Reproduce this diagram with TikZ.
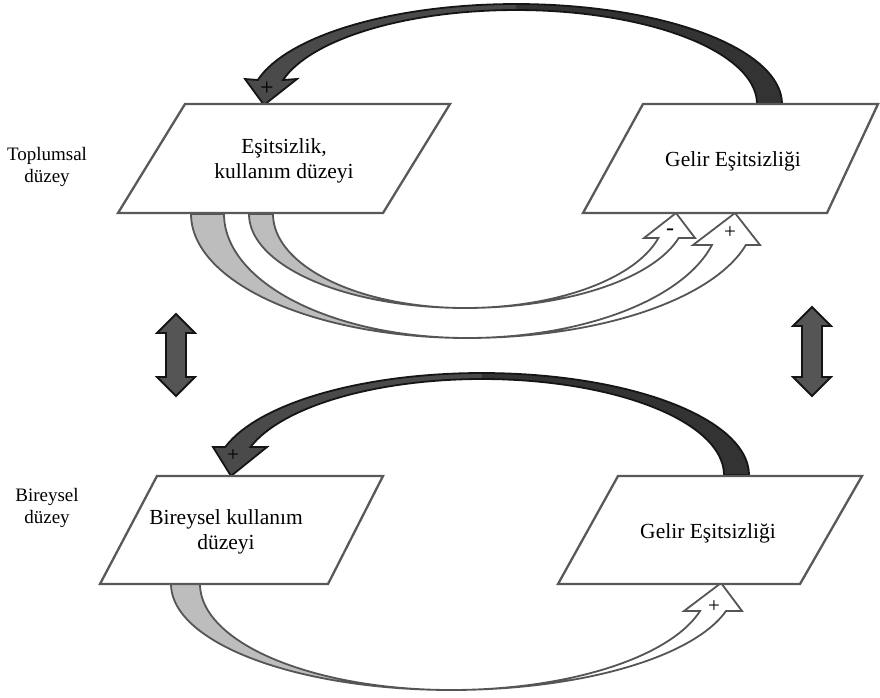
\documentclass[tikz,border=0pt]{standalone}
\usepackage{fontspec}
\setmainfont{Liberation Serif}
\definecolor{boxline}{HTML}{595959}
\definecolor{darkfront}{HTML}{4A4A4A}
\definecolor{darkback}{HTML}{333333}
\definecolor{darkedge}{HTML}{151515}
\definecolor{greyback}{HTML}{BDBDBD}
\definecolor{bandline}{HTML}{555555}
\definecolor{twinfill}{HTML}{555555}
\begin{document}
\begin{tikzpicture}[x=1pt,y=-1pt,
  every plot/.style={samples=70},
  box/.style={draw=boxline,line width=2.3pt,fill=white,line join=miter},
  boxtext/.style={font=\fontsize{21.5}{25}\selectfont,align=center,inner sep=0pt},
  sidetext/.style={font=\fontsize{19}{22.5}\selectfont,align=center,inner sep=0pt},
  sign/.style={font=\fontsize{21}{21}\selectfont,inner sep=0pt},
  darkedge/.style={draw=darkedge,line width=1.8pt,line join=miter},
  bandedge/.style={draw=bandline,line width=1.8pt,line join=miter},
  twin/.style={fill=twinfill,draw=darkedge,line width=1.8pt,line join=miter}]
\useasboundingbox (0,0) rectangle (880,697);

% ---- feedback arrow over the society level (elliptic band, centre 516,104) ----
\fill[darkback] plot[domain=0:-90,variable=\t]({516+266*cos(\t)},{104+100*sin(\t)})
  -- plot[domain=-90:0,variable=\t]({516+241*cos(\t)},{104+94*sin(\t)}) -- cycle;
\fill[darkfront] plot[domain=-90:-166.11,variable=\t]({516+266*cos(\t)},{104+100*sin(\t)})
  -- (245,79) -- (264,105) -- (297,79)
  -- plot[domain=-165.21:-90,variable=\t]({516+241*cos(\t)},{104+94*sin(\t)}) -- cycle;
\path[darkedge] plot[domain=0:-166.11,variable=\t]({516+266*cos(\t)},{104+100*sin(\t)})
  -- (245,79) -- (264,105) -- (297,79)
  -- plot[domain=-165.21:0,variable=\t]({516+241*cos(\t)},{104+94*sin(\t)}) -- cycle;

% ---- feedback arrow over the individual level (centre 482,475) ----
\fill[darkback] plot[domain=0:-90,variable=\t]({482+267*cos(\t)},{475+102*sin(\t)})
  -- plot[domain=-90:0,variable=\t]({482+242*cos(\t)},{475+96*sin(\t)}) -- cycle;
\fill[darkfront] plot[domain=-90:-164.07,variable=\t]({482+267*cos(\t)},{475+102*sin(\t)})
  -- (213,447) -- (231,476) -- (267,447)
  -- plot[domain=-163.04:-90,variable=\t]({482+242*cos(\t)},{475+96*sin(\t)}) -- cycle;
\path[darkedge] plot[domain=0:-164.07,variable=\t]({482+267*cos(\t)},{475+102*sin(\t)})
  -- (213,447) -- (231,476) -- (267,447)
  -- plot[domain=-163.04:0,variable=\t]({482+242*cos(\t)},{475+96*sin(\t)}) -- cycle;

% ---- arrows under the society level: outer one (+) ----
\path[bandedge,fill=greyback] plot[domain=180:90,variable=\t]({467+276*cos(\t)},{214+124*sin(\t)})
  -- plot[domain=90:180,variable=\t]({467+243*cos(\t)},{214+124*sin(\t)}) -- cycle;
\path[bandedge,fill=white] plot[domain=90:14.48,variable=\t]({467+288*cos(\t)},{214+124*sin(\t)})
  -- (760,245) -- (735,213) -- (693,245)
  -- plot[domain=14.48:90,variable=\t]({467+253*cos(\t)},{214+124*sin(\t)}) -- cycle;
% inner one (-)
\path[bandedge,fill=greyback] plot[domain=180:90,variable=\t]({465+216*cos(\t)},{214+94*sin(\t)})
  -- plot[domain=90:180,variable=\t]({465+192*cos(\t)},{214+94*sin(\t)}) -- cycle;
\path[bandedge,fill=white] plot[domain=90:14.79,variable=\t]({465+221*cos(\t)},{214+94*sin(\t)})
  -- (695,238) -- (676,213) -- (644,238)
  -- plot[domain=14.79:90,variable=\t]({465+200*cos(\t)},{214+94*sin(\t)}) -- cycle;

% ---- arrow under the individual level ----
\path[bandedge,fill=greyback] plot[domain=180:90,variable=\t]({451+280*cos(\t)},{584+106*sin(\t)})
  -- plot[domain=90:180,variable=\t]({451+251*cos(\t)},{584+106*sin(\t)}) -- cycle;
\path[bandedge,fill=white] plot[domain=90:14.76,variable=\t]({451+284.4*cos(\t)},{584+106*sin(\t)})
  -- (742,611) -- (721,583) -- (684,611)
  -- plot[domain=14.76:90,variable=\t]({451+257.5*cos(\t)},{584+106*sin(\t)}) -- cycle;

% ---- level boxes ----
\draw[box] (185,104) -- (450,104) -- (383,213) -- (118,213) -- cycle;
\draw[box] (643,104) -- (878,104) -- (827,213) -- (583,213) -- cycle;
\draw[box] (157,476) -- (383,476) -- (328,584) -- (100,584) -- cycle;
\draw[box] (618,476) -- (862,476) -- (800,584) -- (558,584) -- cycle;

\node[boxtext] (useS) at (284,161) {Eşitsizlik,\\kullanım düzeyi};
\node[boxtext] (incS) at (733,161) {Gelir Eşitsizliği};
\node[boxtext] (useI) at (226,532) {Bireysel kullanım\\düzeyi};
\node[boxtext] (incI) at (708,533) {Gelir Eşitsizliği};

\node[sidetext] (lvlS) at (47,167) {Toplumsal\\düzey};
\node[sidetext] (lvlI) at (47,508) {Bireysel\\düzey};

% ---- signs on arrow heads ----
\node[sign,font=\fontsize{24}{24}\selectfont] (sA) at (267,89) {+};
\node[sign] (sB) at (233,456) {+};
\node[sign,font=\fontsize{24}{24}\selectfont] (sC) at (670,232) {-};
\node[sign] (sD) at (730,233) {+};
\node[sign] (sE) at (714,607) {+};

% ---- two-way links between levels ----
\draw[twin] (176,314) -- (195,333) -- (186,333) -- (186,377) -- (195,377) -- (176,396)
  -- (157,377) -- (166,377) -- (166,333) -- (157,333) -- cycle;
\draw[twin] (812,307) -- (831,326) -- (822,326) -- (822,377) -- (831,377) -- (812,396)
  -- (793,377) -- (802,377) -- (802,326) -- (793,326) -- cycle;
\end{tikzpicture}
\end{document}
